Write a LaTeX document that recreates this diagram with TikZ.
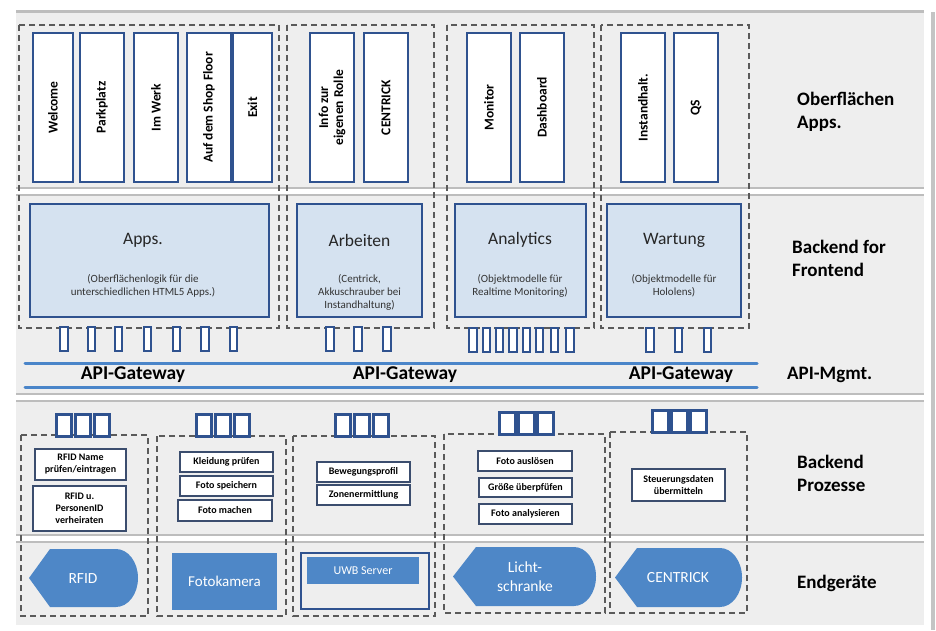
\documentclass[tikz,border=0pt]{standalone}
\usepackage{fontspec}
\setmainfont{Carlito}
\definecolor{panel}{HTML}{EEEEEE}
\definecolor{sepgray}{HTML}{BDBDBD}
\definecolor{shadowgray}{HTML}{C4C4C4}
\definecolor{dashgray}{HTML}{5A5A5A}
\definecolor{boxblue}{HTML}{2F528F}
\definecolor{bfffill}{HTML}{D5E2F0}
\definecolor{devblue}{HTML}{4E87C7}
\definecolor{apiblue}{HTML}{4A85C9}
\definecolor{procline}{HTML}{3B4D6E}
\definecolor{titlegray}{HTML}{262626}
\definecolor{subgray}{HTML}{333333}

% box given by its outer corners (x1,y1) and (x2,y2)
\newcommand{\cbox}[7]{\node[#2, minimum width={#5-#3-2}, minimum height={#6-#4-2}] (#1) at ({(#3+#5)/2},{(#4+#6)/2}) {#7};}
% same, for boxes whose text runs upwards
\newcommand{\rbox}[7]{\node[#2, minimum width={#6-#4-2}, minimum height={#5-#3-2}] (#1) at ({(#3+#5)/2},{(#4+#6)/2}) {#7};}
% band separator: two grey rules with a light gap between them
\newcommand{\bandsep}[2]{%
  \fill[white] (16,#1) rectangle (924,#2);
  \draw[sepgray, line width=2pt] (16,#1) -- (924,#1) (16,#2) -- (924,#2);}

\begin{document}
\begin{tikzpicture}[x=1pt,y=-1pt,
  appbox/.style={draw=boxblue, line width=2pt, fill=white, rotate=90, inner sep=0pt,
    align=center, font=\bfseries\fontsize{13.5}{15}\selectfont},
  bffbox/.style={draw=boxblue, line width=2pt, fill=bfffill, inner sep=0pt},
  grp/.style={draw=dashgray, line width=2pt, dash pattern=on 6pt off 4pt},
  port/.style={draw=boxblue, line width=2pt, fill=white, minimum width=7.5pt,
    minimum height=24pt, inner sep=0pt},
  bigport/.style={draw=boxblue, line width=2.7pt, fill=white, minimum width=15.5pt,
    minimum height=22.5pt, inner sep=0pt},
  procbox/.style={draw=procline, line width=1.4pt, fill=white, inner sep=0pt, align=center,
    font=\bfseries\fontsize{10}{12}\selectfont},
  devtext/.style={text=white, align=center, inner sep=0pt, font=\fontsize{15.5}{19}\selectfont},
  layerlabel/.style={anchor=west, align=left, inner sep=0pt, font=\bfseries\fontsize{19}{23}\selectfont},
  gwlabel/.style={inner sep=0pt, font=\bfseries\fontsize{19.5}{23}\selectfont},
  bfftitle/.style={inner sep=0pt, text=titlegray, font=\fontsize{17.5}{21}\selectfont},
  bffsub/.style={inner sep=0pt, align=center, text=subgray, font=\fontsize{11}{13}\selectfont},
  apiline/.style={draw=apiblue, line width=3pt, line cap=round},
]
\useasboundingbox (0,0) rectangle (936,630);

% ---------- background panel and layer bands ----------
\fill[white] (0,0) rectangle (936,630);
\draw[shadowgray, line width=4pt] (933,12) -- (933,630);
\fill[panel] (16,10) rectangle (924,625);
\draw[sepgray, line width=2.5pt] (16,11.5) -- (924,11.5);
\bandsep{188}{195}
\bandsep{394}{401}
\bandsep{535}{542}

% ---------- dashed groups, upper part ----------
\draw[grp] (19,25) rectangle (279,328);
\draw[grp] (287,25) rectangle (434,328);
\draw[grp] (447,25) rectangle (594,328);
\draw[grp] (601,25) rectangle (749,328);

% ---------- dashed groups, lower part ----------
\draw[grp] (21,435) rectangle (148,616);
\draw[grp] (157,436) rectangle (286,616);
\draw[grp] (293,436) rectangle (435,616);
\draw[grp] (444,434) rectangle (605,613);
\draw[grp] (610,432) rectangle (747,613);

% ---------- front-end apps ----------
\rbox{welcome}{appbox}{32}{32}{74}{183}{Welcome}
\rbox{parkplatz}{appbox}{79}{32}{125}{183}{Parkplatz}
\rbox{imwerk}{appbox}{133}{32}{179}{183}{Im Werk}
\rbox{shopfloor}{appbox}{186}{32}{232}{183}{Auf dem Shop Floor}
\rbox{exit}{appbox}{232}{32}{273}{183}{Exit}
\rbox{inforolle}{appbox}{309}{32}{355}{183}{Info zur\\eigenen Rolle}
\rbox{centrickapp}{appbox}{363}{32}{409}{183}{CENTRICK}
\rbox{monitor}{appbox}{466}{32}{512}{183}{Monitor}
\rbox{dashboard}{appbox}{519}{32}{565}{183}{Dashboard}
\rbox{instand}{appbox}{620}{32}{666}{183}{Instandhalt.}
\rbox{qs}{appbox}{673}{32}{719}{183}{QS}

% ---------- backend for frontend ----------
\cbox{bffapps}{bffbox}{29}{203}{270}{318}{}
\cbox{bffarbeiten}{bffbox}{296}{203}{423}{318}{}
\cbox{bffanalytics}{bffbox}{454}{203}{587}{318}{}
\cbox{bffwartung}{bffbox}{606}{203}{742}{318}{}

\node[bfftitle] (tapps) at (143,240) {Apps.};
\node[bffsub] (sapps) at (143,285.5) {(Oberflächenlogik für die\\unterschiedlichen HTML5 Apps.)};
\node[bfftitle] (tarbeiten) at (359.5,240) {Arbeiten};
\node[bffsub] (sarbeiten) at (359.5,292) {(Centrick,\\Akkuschrauber bei\\Instandhaltung)};
\node[bfftitle] (tanalytics) at (520,240) {Analytics};
\node[bffsub] (sanalytics) at (520,285.5) {(Objektmodelle für\\Realtime Monitoring)};
\node[bfftitle] (twartung) at (674,240) {Wartung};
\node[bffsub] (swartung) at (674,285.5) {(Objektmodelle für\\Hololens)};

% ---------- API ports of the front-end backends ----------
\foreach \x [count=\i] in {64,91.5,118.5,147.7,176.3,205,233.7}
  \node[port] (pa\i) at (\x,339) {};
\foreach \x [count=\i] in {330,357.8,386.8}
  \node[port] (pb\i) at (\x,339) {};
\foreach \x [count=\i] in {473,486.3,499.7,513,526.3,539.7,554.7,570}
  \node[port] (pc\i) at (\x,339.5) {};
\foreach \x [count=\i] in {650,678.3,707.5}
  \node[port] (pd\i) at (\x,339.5) {};

% ---------- API gateway ----------
\coordinate (gwtl) at (25,363);
\coordinate (gwtr) at (757,363);
\coordinate (gwbl) at (25,387);
\coordinate (gwbr) at (757,387);
\draw[apiline] (gwtl) -- (gwtr);
\draw[apiline] (gwbl) -- (gwbr);
\node[gwlabel] (gw1) at (133,375) {API-Gateway};
\node[gwlabel] (gw2) at (405,375) {API-Gateway};
\node[gwlabel] (gw3) at (681,375) {API-Gateway};

% ---------- ports of the backend processes ----------
\foreach \x [count=\i] in {64,83,102}
  \node[bigport] (qa\i) at (\x,425.5) {};
\foreach \x [count=\i] in {204,223,242}
  \node[bigport] (qb\i) at (\x,425.5) {};
\foreach \x [count=\i] in {343,362,381}
  \node[bigport] (qc\i) at (\x,425.5) {};
\foreach \x [count=\i] in {507.5,526.5,545.5}
  \node[bigport] (qd\i) at (\x,423.5) {};
\foreach \x [count=\i] in {660.5,679.5,698.5}
  \node[bigport] (qe\i) at (\x,421.5) {};

% ---------- backend processes ----------
\cbox{rfidname}{procbox}{34}{448}{127}{481}{RFID Name\\prüfen/eintragen}
\cbox{rfidpers}{procbox}{32}{485}{127}{532}{RFID u.\\PersonenID\\verheiraten}
\cbox{kleidung}{procbox}{179}{451}{274}{473}{Kleidung prüfen}
\cbox{fotospeichern}{procbox}{179}{475}{274}{497}{Foto speichern}
\cbox{fotomachen}{procbox}{177}{499}{273}{522}{Foto machen}
\cbox{bewegung}{procbox}{316}{461}{411}{483}{Bewegungsprofil}
\cbox{zonen}{procbox}{316}{484}{411}{506}{Zonenermittlung}
\cbox{fotoausl}{procbox}{477}{450}{573}{472}{Foto auslösen}
\cbox{groesse}{procbox}{478}{477}{573}{498}{Größe überpfüfen}
\cbox{fotoanal}{procbox}{478}{503}{573}{525}{Foto analysieren}
\cbox{steuerung}{procbox}{631}{468}{726}{502}{Steuerungsdaten\\übermitteln}

% ---------- end devices ----------
\fill[devblue] (29,578) -- (50,549) -- (116,549)
  arc[start angle=-90, end angle=90, x radius=22, y radius=29] -- (50,607) -- cycle;
\node[devtext] (rfid) at (83,579) {RFID};

\fill[devblue] (172,553) rectangle (277,610);
\node[devtext, font=\fontsize{15}{18}\selectfont] (fotokamera) at (224.5,581.5) {Fotokamera};

\cbox{uwbframe}{draw=boxblue, line width=2.5pt, inner sep=0pt}{300}{552}{430}{610}{}
\fill[devblue] (307,557) rectangle (419,584);
\node[devtext, font=\fontsize{12}{14}\selectfont] (uwb) at (363,570.5) {UWB Server};

\fill[devblue] (453,576.5) -- (476,547) -- (574,547)
  arc[start angle=-90, end angle=90, x radius=22, y radius=29.5] -- (476,606) -- cycle;
\node[devtext] (licht) at (525,577) {Licht-\\schranke};

\fill[devblue] (615,577.5) -- (637,548) -- (720,548)
  arc[start angle=-90, end angle=90, x radius=22, y radius=29.5] -- (637,607) -- cycle;
\node[devtext] (centrickdev) at (678,578) {CENTRICK};

% ---------- layer names ----------
\node[layerlabel] (lblui) at (797,111.5) {Oberflächen\\Apps.};
\node[layerlabel] (lblbff) at (792,258.5) {Backend for\\Frontend};
\node[layerlabel] (lblapi) at (787,375) {API-Mgmt.};
\node[layerlabel] (lblproc) at (797,473.5) {Backend\\Prozesse};
\node[layerlabel] (lbldev) at (797,583) {Endgeräte};
\end{tikzpicture}
\end{document}
